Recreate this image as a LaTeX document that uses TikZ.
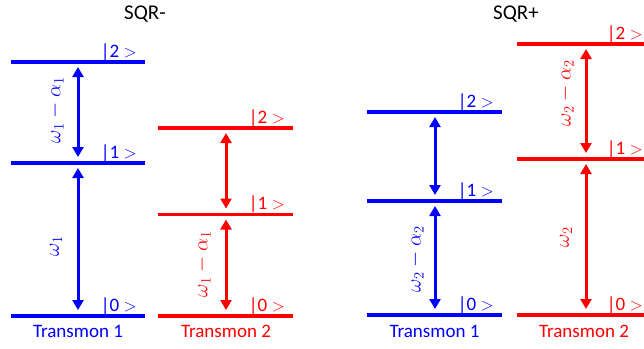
\documentclass[tikz,border=0pt]{standalone}
\usepackage{fontspec}
\setmainfont{Carlito}
\usetikzlibrary{arrows.meta}
\definecolor{tblue}{RGB}{0,0,255}
\definecolor{tred}{RGB}{255,0,0}
\begin{document}
\begin{tikzpicture}[x=1pt,y=-1pt,
  lev/.style={line width=3.4pt},
  trans/.style={line width=3pt,{Triangle[width=11pt,length=10pt]}-{Triangle[width=11pt,length=10pt]},shorten <=5pt,shorten >=6pt},
  ket/.style={anchor=base east,inner sep=0pt,font=\fontsize{19}{19}\selectfont},
  freq/.style={rotate=90,inner sep=0pt,font=\fontsize{22.5}{22.5}\selectfont},
  tname/.style={inner sep=0pt,font=\fontsize{19}{19}\selectfont},
  ttl/.style={inner sep=0pt,font=\fontsize{21}{21}\selectfont}]
\useasboundingbox (0,0) rectangle (644,348);
\begin{scope}
\clip (0,0) rectangle (644,348);

% titles
\node[ttl] (t1) at (145,14) {SQR-};
\node[ttl] (t2) at (516,14) {SQR+};

% ---------- left panel, transmon 1 (blue)
\begin{scope}[tblue]
\coordinate (a2) at (78,62); \coordinate (a1) at (78,163); \coordinate (a0) at (78,316);
\draw[lev] (11,62) -- (145,62);
\draw[lev] (11,163) -- (145,163);
\draw[lev] (11,316) -- (145,316);
\node[ket] (ka2) at (137,57) {|2 $>$};
\node[ket] (ka1) at (137,158) {|1 $>$};
\node[ket] (ka0) at (137,311) {|0 $>$};
\draw[trans] (a2) -- (a1);
\draw[trans] (a1) -- (a0);
\node[freq] (fa21) at (56,110) {$\omega_1-\alpha_1$};
\node[freq] (fa10) at (56,246) {$\omega_1$};
\node[tname] (na) at (78,331) {Transmon 1};
\end{scope}

% ---------- left panel, transmon 2 (red)
\begin{scope}[tred]
\coordinate (b2) at (226,128); \coordinate (b1) at (226,214.5); \coordinate (b0) at (226,316);
\draw[lev] (158,128) -- (293,128);
\draw[lev] (158,214.5) -- (293,214.5);
\draw[lev] (158,316) -- (293,316);
\node[ket] (kb2) at (285,123) {|2 $>$};
\node[ket] (kb1) at (285,209.5) {|1 $>$};
\node[ket] (kb0) at (285,311) {|0 $>$};
\draw[trans] (b2) -- (b1);
\draw[trans] (b1) -- (b0);
\node[freq] (fb10) at (203,264) {$\omega_1-\alpha_1$};
\node[tname] (nb) at (226,331) {Transmon 2};
\end{scope}

% ---------- right panel, transmon 1 (blue)
\begin{scope}[tblue]
\coordinate (c2) at (435,112); \coordinate (c1) at (435,201); \coordinate (c0) at (435,315);
\draw[lev] (367,112) -- (502,112);
\draw[lev] (367,201) -- (502,201);
\draw[lev] (367,315) -- (502,315);
\node[ket] (kc2) at (494,107) {|2 $>$};
\node[ket] (kc1) at (494,196) {|1 $>$};
\node[ket] (kc0) at (494,310) {|0 $>$};
\draw[trans] (c2) -- (c1);
\draw[trans] (c1) -- (c0);
\node[freq] (fc10) at (416,259) {$\omega_2-\alpha_2$};
\node[tname] (nc) at (434.5,331) {Transmon 1};
\end{scope}

% ---------- right panel, transmon 2 (red)
\begin{scope}[tred]
\coordinate (d2) at (586,44); \coordinate (d1) at (586,159); \coordinate (d0) at (586,315);
\draw[lev] (517,44) -- (652,44);
\draw[lev] (517,159) -- (652,159);
\draw[lev] (517,315) -- (652,315);
\node[ket] (kd2) at (643,39) {|2 $>$};
\node[ket] (kd1) at (643,154) {|1 $>$};
\node[ket] (kd0) at (643,310) {|0 $>$};
\draw[trans] (d2) -- (d1);
\draw[trans] (d1) -- (d0);
\node[freq] (fd21) at (566,93) {$\omega_2-\alpha_2$};
\node[freq] (fd10) at (566,237) {$\omega_2$};
\node[tname] (nd) at (584,331) {Transmon 2};
\end{scope}
\end{scope}
\end{tikzpicture}
\end{document}
